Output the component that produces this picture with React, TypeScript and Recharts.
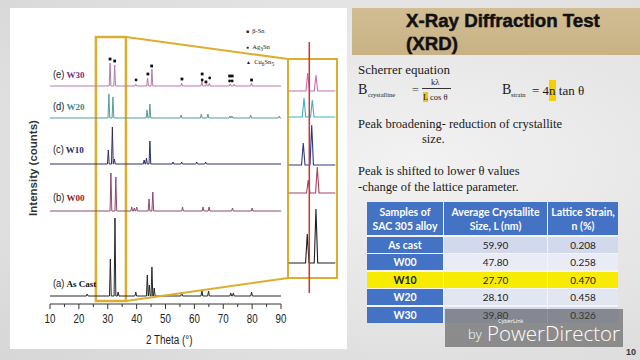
import { ComposedChart, LineChart, Line, XAxis, YAxis, ReferenceArea, ReferenceLine, Scatter } from "recharts";

// 2-theta ticks (minor every 5, labelled every 10)
const THETA_TICKS = [10, 15, 20, 25, 30, 35, 40, 45, 50, 55, 60, 65, 70, 75, 80, 85, 90];

// peaks: [2theta, height above baseline]
const AS_CAST_PEAKS: [number, number][] = [
  [22.9, 2], [30.9, 37], [32.5, 78], [33.6, 4], [39.7, 4], [43.7, 21], [44.4, 11], [45.3, 29],
  [46.1, 8], [55.6, 4], [62.6, 6], [64.9, 5], [72.6, 3], [73.5, 3], [79.8, 4],
];
const W00_PEAKS: [number, number][] = [
  [31.1, 38], [32.8, 34], [38.3, 4], [39.2, 3], [40.0, 4], [44.3, 12], [45.6, 19], [55.9, 4],
  [63.0, 4], [65.1, 4], [73.2, 3], [80.0, 3],
];
const W10_PEAKS: [number, number][] = [
  [30.2, 14], [31.6, 37], [32.3, 5], [42.6, 4], [43.4, 6], [44.6, 23], [52.6, 2], [55.6, 2],
  [60.8, 2], [63.9, 2],
];
const W20_PEAKS: [number, number][] = [
  [30.4, 24], [31.8, 21], [43.6, 8], [44.6, 14], [55.4, 3], [62.4, 4], [64.7, 4], [72.3, 2],
  [73.0, 2], [79.5, 3], [89.4, 2],
];
const W30_PEAKS: [number, number][] = [
  [30.8, 23], [32.4, 21], [39.7, 2], [43.8, 8], [45.3, 17], [55.6, 3], [62.6, 5], [64.2, 2],
  [65.2, 3], [72.4, 2], [73.8, 2], [79.8, 3],
];

// zoomed 26-36 deg window (inset)
const INSET_AS_CAST: [number, number][] = [[30.73, 29], [32.24, 54]];
const INSET_W00: [number, number][] = [[30.9, 13], [32.47, 26]];
const INSET_W10: [number, number][] = [[30.03, 22], [31.5, 40]];
const INSET_W20: [number, number][] = [[30.16, 19], [31.6, 17]];
const INSET_W30: [number, number][] = [[30.8, 18], [32.24, 16]];
const INSET_REF_THETA = 31.08;

// phase markers above the W30 pattern
const BETA_SN_MARKS: [number, number][] = [
  [30.8, 245], [32.4, 243], [43.9, 230], [45.2, 238], [55.7, 225], [62.7, 230], [64.0, 222],
  [72.2, 228], [73.1, 228], [79.8, 224],
];
const AG3SN_MARKS: [number, number][] = [[39.8, 224], [62.7, 224], [65.3, 226], [72.2, 223], [73.1, 223]];

// table
const SAMPLES = ["As cast", "W00", "W10", "W20", "W30"];
const CRYSTALLITE_NM = [59.9, 47.8, 27.7, 28.1, 39.8];
const STRAIN_PCT = [0.208, 0.258, 0.47, 0.458, 0.326];

// layout: stacking offsets (chart units = px)
const MAIN_BASE = [8, 93, 140, 186, 218];
const INSET_BASE = [30, 100, 128, 176, 202];
const LABEL_Y = [282, 196, 148, 105, 73];

const SERIES = [
  { tag: "(a)", name: "As Cast", peaks: AS_CAST_PEAKS, inset: INSET_AS_CAST, line: "#262626", inLine: "#1e1e1e", label: "#111" },
  { tag: "(b)", name: "W00", peaks: W00_PEAKS, inset: INSET_W00, line: "#8c4a68", inLine: "#a3455f", label: "#8b1a2c" },
  { tag: "(c)", name: "W10", peaks: W10_PEAKS, inset: INSET_W10, line: "#2b3062", inLine: "#2e3a84", label: "#1c2a68" },
  { tag: "(d)", name: "W20", peaks: W20_PEAKS, inset: INSET_W20, line: "#5a9b9b", inLine: "#3fb0bd", label: "#3a8a8a" },
  { tag: "(e)", name: "W30", peaks: W30_PEAKS, inset: INSET_W30, line: "#b57ca6", inLine: "#cc6cb3", label: "#7b2f80" },
];

const toTrace = (peaks: [number, number][], base: number, from: number, to: number, half: number) => {
  const pts = [{ t: from, v: base }];
  peaks.forEach(([t, h]) => {
    pts.push({ t: t - half, v: base }, { t, v: base + h }, { t: t + half, v: base });
  });
  pts.push({ t: to, v: base });
  return pts;
};

const YELLOW = "#dcae30";
const F_SANS = "'Liberation Sans', Arial, sans-serif";
const F_SERIF = "'Liberation Serif', 'Times New Roman', serif";
const F_TABLE = "Lato, 'Open Sans', sans-serif";

const Txt = ({ x, y, size, children, style }: any) => (
  <div
    style={{
      position: "absolute",
      left: x,
      top: y - size * 0.85,
      fontSize: size,
      lineHeight: 1,
      whiteSpace: "nowrap",
      ...style,
    }}
  >
    {children}
  </div>
);

const AxisTick = (props: any) => {
  const { x, y, payload } = props;
  const major = payload.value % 10 === 0;
  return (
    <g>
      <line x1={x} x2={x} y1={y} y2={y + (major ? 5 : 3)} stroke="#333" />
      {major && (
        <text
          transform={`translate(${x},${y + 19}) scale(0.78,1)`}
          textAnchor="middle"
          fontSize={12.5}
          fontFamily={F_SANS}
          fill="#222"
        >
          {payload.value}
        </text>
      )}
    </g>
  );
};

const Square = (p: any) => <rect x={p.cx - 1.4} y={p.cy - 1.4} width={2.8} height={2.8} fill="#111" />;
const Dot = (p: any) => <circle cx={p.cx} cy={p.cy} r={1.4} fill="#111" />;

const TABLE_ROW_BG = ["#d3d9ec", "#eaecf5", "#f7ec00", "#e2e6f1", "#d3d9ec"];

export default function App() {
  return (
    <div
      style={{
        position: "absolute",
        left: 0,
        top: 0,
        width: 640,
        height: 360,
        overflow: "hidden",
        background: "radial-gradient(ellipse at 65% 45%, #f2f2f2 0%, #e3e3e3 60%, #d6d6d6 100%)",
        fontFamily: F_SANS,
      }}
    >
      {/* chart panel */}
      <div style={{ position: "absolute", left: 10, top: 8, width: 337, height: 341, background: "#fff" }} />

      <div style={{ position: "absolute", left: 0, top: 0 }}>
        <ComposedChart width={300} height={340} margin={{ top: 21, right: 19, bottom: 16, left: 50 }}>
          <XAxis
            type="number"
            dataKey="t"
            domain={[10, 90]}
            ticks={THETA_TICKS}
            interval={0}
            tick={<AxisTick />}
            tickLine={false}
            tickSize={0}
            tickMargin={0}
            height={20}
            allowDataOverflow
            axisLine={{ stroke: "#333" }}
          />
          <XAxis xAxisId="top" orientation="top" type="number" domain={[10, 90]} tick={false} tickLine={false} height={0} axisLine={{ stroke: "#333" }} />
          <YAxis type="number" dataKey="v" domain={[0, 283]} tick={false} tickLine={false} width={0} axisLine={{ stroke: "#333" }} allowDataOverflow />
          <YAxis yAxisId="right" orientation="right" type="number" domain={[0, 283]} tick={false} tickLine={false} width={0} axisLine={{ stroke: "#333" }} />
          {SERIES.map((s, i) => (
            <Line
              key={s.name}
              data={toTrace(s.peaks, MAIN_BASE[i], 10, 90, 0.3)}
              dataKey="v"
              stroke={s.line}
              strokeWidth={1}
              dot={false}
              isAnimationActive={false}
            />
          ))}
          <Scatter data={BETA_SN_MARKS.map(([t, v]) => ({ t, v }))} dataKey="v" shape={<Square />} isAnimationActive={false} />
          <Scatter data={AG3SN_MARKS.map(([t, v]) => ({ t, v }))} dataKey="v" shape={<Dot />} isAnimationActive={false} />
          <ReferenceArea x1={25.9} x2={36.3} y1={3} y2={267} fill="none" stroke={YELLOW} strokeWidth={2.5} ifOverflow="visible" />
        </ComposedChart>
      </div>

      {/* zoom connectors */}
      <svg width={640} height={360} style={{ position: "absolute", left: 0, top: 0 }}>
        <line x1={126} y1={37} x2={288} y2={59} stroke={YELLOW} strokeWidth={2} />
        <line x1={126} y1={301} x2={288} y2={278} stroke={YELLOW} strokeWidth={2} />
      </svg>
      <div
        style={{
          position: "absolute",
          left: 287,
          top: 58,
          width: 51,
          height: 221,
          border: `2px solid ${YELLOW}`,
          boxSizing: "border-box",
        }}
      />
      <div style={{ position: "absolute", left: 287, top: 42 }}>
        <LineChart width={50} height={251} margin={{ top: 0, right: 0, bottom: 0, left: 0 }}>
          <XAxis type="number" dataKey="t" domain={[27.2, 35.9]} hide allowDataOverflow />
          <YAxis type="number" domain={[0, 251]} hide allowDataOverflow />
          {SERIES.map((s, i) => (
            <Line
              key={s.name}
              data={toTrace(s.inset, INSET_BASE[i], 27.5, 35.6, 0.3)}
              dataKey="v"
              stroke={s.inLine}
              strokeWidth={1.1}
              dot={false}
              isAnimationActive={false}
            />
          ))}
          <ReferenceLine x={INSET_REF_THETA} stroke="#d63030" strokeWidth={1.5} />
        </LineChart>
      </div>

      {/* series labels */}
      {SERIES.map((s, i) => (
        <div
          key={s.name}
          style={{ position: "absolute", left: 53, top: LABEL_Y[i] - 7, height: 14, lineHeight: "14px", whiteSpace: "nowrap" }}
        >
          <span style={{ fontFamily: F_SANS, fontSize: 11, color: "#222", display: "inline-block", transform: "scaleX(0.85)", transformOrigin: "left" }}>{s.tag}</span>
          <span style={{ fontFamily: F_SERIF, fontSize: 9, fontWeight: 700, color: s.label }}>{s.name}</span>
        </div>
      ))}

      {/* phase legend */}
      {[
        { m: "■", n: <>β-Sn</>, y: 31 },
        { m: "●", n: <>Ag<sub>3</sub>Sn</>, y: 47 },
        { m: "▲", n: <>Cu<sub>6</sub>Sn<sub>5</sub></>, y: 62 },
      ].map((l) => (
        <div key={l.y} style={{ position: "absolute", left: 246, top: l.y - 5, fontSize: 6.5, fontFamily: F_SERIF, lineHeight: "10px", color: "#222", whiteSpace: "nowrap" }}>
          <span style={{ fontSize: 5 }}>{l.m}</span>&nbsp;&nbsp;{l.n}
        </div>
      ))}

      {/* axis titles */}
      <Txt x={146} y={344} size={12} style={{ color: "#222", transform: "scaleX(0.82)", transformOrigin: "left" }}>2 Theta (°)</Txt>
      <div
        style={{
          position: "absolute",
          left: 33,
          top: 168,
          transform: "translate(-50%, -50%) rotate(-90deg)",
          fontSize: 11.5,
          fontWeight: 700,
          color: "#333",
          whiteSpace: "nowrap",
        }}
      >
        Intensity (counts)
      </div>

      {/* title */}
      <div style={{ position: "absolute", left: 352, top: 8, width: 288, height: 47, background: "linear-gradient(180deg, #d2bd93, #c8b285)" }} />
      <Txt x={406} y={28} size={18.7} style={{ fontWeight: 700, color: "#111", WebkitTextStroke: "0.5px #111" }}>X-Ray Diffraction Test</Txt>
      <Txt x={406} y={51} size={18.7} style={{ fontWeight: 700, color: "#111", WebkitTextStroke: "0.5px #111" }}>(XRD)</Txt>

      {/* equations */}
      <div style={{ fontFamily: F_SERIF, color: "#1a1a1a" }}>
        <Txt x={358} y={74} size={13}>Scherrer equation</Txt>
        <Txt x={358} y={95} size={14}>B</Txt>
        <Txt x={368} y={98} size={6.5}>crystalline</Txt>
        <Txt x={412} y={94} size={12} style={{ color: "#555" }}>=</Txt>
        <Txt x={431} y={85} size={8.5}>kλ</Txt>
        <div style={{ position: "absolute", left: 422, top: 88, width: 29, height: 1, background: "#333" }} />
        <Txt x={423} y={100} size={8.5}>
          <span style={{ background: "#f0c419" }}>L</span> cos θ
        </Txt>
        <Txt x={502} y={95} size={14}>B</Txt>
        <Txt x={511} y={98} size={6.5}>strain</Txt>
        <Txt x={532} y={95} size={13}>
          = 4<span style={{ background: "#f5d000", padding: "3px 0" }}>n</span> tan θ
        </Txt>
        <Txt x={358} y={129} size={12.5}>Peak broadening- reduction of crystallite</Txt>
        <Txt x={422} y={144} size={12.5}>size.</Txt>
        <Txt x={358} y={176} size={12.5}>Peak is shifted to lower θ values</Txt>
        <Txt x={358} y={192} size={12.5}>-change of the lattice parameter.</Txt>
      </div>

      {/* table */}
      <div
        style={{
          position: "absolute",
          left: 367,
          top: 202,
          width: 251,
          display: "grid",
          gridTemplateColumns: "76px 103px 70px",
          gridTemplateRows: "33px repeat(5, 16px)",
          columnGap: 1,
          rowGap: 1.5,
          background: "#f4f4f8",
          fontFamily: F_TABLE,
          fontSize: 10,
        }}
      >
        {["Samples of\nSAC 305 alloy", "Average Crystallite\nSize, L (nm)", "Lattice Strain,\nn (%)"].map((h) => (
          <div
            key={h}
            style={{
              background: "#4472c4",
              color: "#fff",
              fontWeight: 700,
              whiteSpace: "pre",
              textAlign: "center",
              display: "flex",
              alignItems: "center",
              justifyContent: "center",
              lineHeight: "14px",
              fontSize: 10.5,
            }}
          >
            {h}
          </div>
        ))}
        {SAMPLES.map((s, i) => {
          const hi = s === "W10";
          const cell = { display: "flex", alignItems: "center", justifyContent: "center", background: TABLE_ROW_BG[i], color: "#222" };
          return [
            <div key={s + "a"} style={{ ...cell, background: hi ? TABLE_ROW_BG[i] : "#4472c4", color: hi ? "#222" : "#fff", fontWeight: 700, fontSize: 10.5 }}>
              {s}
            </div>,
            <div key={s + "b"} style={cell}>{CRYSTALLITE_NM[i].toFixed(2)}</div>,
            <div key={s + "c"} style={cell}>{STRAIN_PCT[i].toFixed(3)}</div>,
          ];
        })}
      </div>

      {/* watermark */}
      <div style={{ position: "absolute", left: 445, top: 309, width: 178, height: 38, background: "rgba(70,70,70,0.55)" }} />
      <Txt x={498} y={324} size={5.5} style={{ color: "#fff", fontFamily: "'Open Sans', sans-serif" }}>CyberLink</Txt>
      <Txt x={468} y={339} size={13} style={{ color: "#fff", fontFamily: "'Open Sans', sans-serif", fontWeight: 300 }}>by</Txt>
      <Txt x={487} y={340} size={20.5} style={{ color: "#fff", fontFamily: "'Open Sans', sans-serif", fontWeight: 300 }}>PowerDirector</Txt>

      <Txt x={626} y={356} size={9} style={{ fontWeight: 700, color: "#333" }}>10</Txt>
    </div>
  );
}
